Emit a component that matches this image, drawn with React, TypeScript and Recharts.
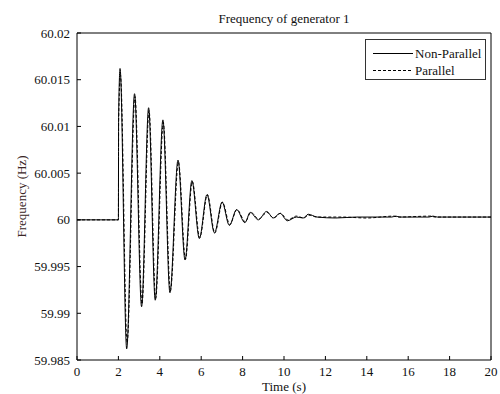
import React from 'react';
import { LineChart, Line, XAxis, YAxis, Legend } from 'recharts';

const FONT = '"Liberation Serif", "Times New Roman", serif';

const timeTicks = [0, 2, 4, 6, 8, 10, 12, 14, 16, 18, 20];
const freqTicks = [59.985, 59.99, 59.995, 60, 60.005, 60.01, 60.015, 60.02];

const nonParallelTime = [
  0, 2.0, 2.01, 2.08, 2.4, 2.78, 3.12, 3.46, 3.78, 4.15, 4.49, 4.88, 5.22, 5.55, 5.91,
  6.28, 6.64, 7.01, 7.36, 7.71, 8.11, 8.37, 8.76, 9.16, 9.48, 9.81, 10.16, 10.6, 10.93,
  11.17, 11.6, 12.5, 13.5, 15.2, 15.4, 15.6, 17.0, 17.2, 17.4, 20
];
const nonParallelFreq = [
  60, 60, 60.011, 60.0162, 59.9862, 60.0135, 59.9907, 60.012, 59.9914, 60.0107, 59.9922,
  60.0064, 59.9957, 60.0042, 59.998, 60.0027, 59.9986, 60.0019, 59.9994, 60.0011, 59.9997,
  60.0008, 60.0, 60.0009, 60.0002, 60.0007, 59.9999, 60.0003, 60.0002, 60.0006, 60.0003,
  60.0002, 60.0003, 60.0003, 60.0004, 60.0003, 60.0003, 60.0004, 60.0003, 60.0003
];

const parallelTime = [
  0, 2.0, 2.01, 2.1, 2.42, 2.8, 3.14, 3.48, 3.8, 4.17, 4.51, 4.9, 5.24, 5.57, 5.93,
  6.3, 6.66, 7.03, 7.38, 7.73, 8.13, 8.4, 8.78, 9.18, 9.5, 9.83, 10.18, 10.6, 10.95,
  11.2, 11.6, 12.8, 14.0, 15.3, 15.5, 17.1, 17.3, 20
];
const parallelFreq = [
  60, 60, 60.0105, 60.0155, 59.9868, 60.0132, 59.991, 60.0117, 59.9916, 60.0104, 59.9924,
  60.0062, 59.9958, 60.0041, 59.9981, 60.0027, 59.9986, 60.0019, 59.9995, 60.0011, 59.9998,
  60.0008, 60.0001, 60.0008, 60.0002, 60.0007, 60.0, 60.0004, 60.0002, 60.0005, 60.0003,
  60.0003, 60.0002, 60.0004, 60.0003, 60.0004, 60.0003, 60.0003
];

const nonParallel = nonParallelTime.map((t, i) => ({ t, f: nonParallelFreq[i] }));
const parallel = parallelTime.map((t, i) => ({ t, f: parallelFreq[i] }));

const TICK_GAP = 6;
const TICK_LEN = 4;

// bottom labels plus an inward tick mark
const BottomTick = ({ x, y, payload }: any) => (
  <g>
    <line x1={x} x2={x} y1={y - TICK_GAP} y2={y - TICK_GAP - TICK_LEN} stroke="#000" />
    <text x={x} y={y + 1} dy="0.71em" textAnchor="middle" fill="#111" fontSize={13} fontFamily={FONT}>
      {payload.value}
    </text>
  </g>
);

const LeftTick = ({ x, y, payload }: any) => (
  <g>
    <line x1={x + TICK_GAP} x2={x + TICK_GAP + TICK_LEN} y1={y} y2={y} stroke="#000" />
    <text x={x - 1} y={y} dy="0.355em" textAnchor="end" fill="#111" fontSize={13} fontFamily={FONT}>
      {String(payload.value)}
    </text>
  </g>
);

const LegendBox = () => (
  <svg width={121} height={41} style={{ display: 'block' }}>
    <rect x={0.5} y={0.5} width={120} height={40} fill="#fff" stroke="#333" />
    <line x1={8} x2={48} y1={14.5} y2={14.5} stroke="#000" />
    <text x={50} y={19} fontSize={13} fontFamily={FONT} fill="#111">Non-Parallel</text>
    <line x1={8} x2={48} y1={31.5} y2={31.5} stroke="#000" strokeDasharray="3 2" />
    <text x={50} y={36} fontSize={13} fontFamily={FONT} fill="#111">Parallel</text>
  </svg>
);

const YLabel = ({ viewBox }: any) => {
  const cx = 21;
  const cy = viewBox.y + viewBox.height / 2;
  return (
    <text
      x={cx}
      y={cy}
      transform={`rotate(-90 ${cx} ${cy})`}
      textAnchor="middle"
      dominantBaseline="central"
      fontSize={13}
      fontFamily={FONT}
      fill="#3a2626"
    >
      Frequency (Hz)
    </text>
  );
};

export default function App() {
  return (
    <div style={{ width: 500, height: 394, background: '#fff' }}>
      <style>{'body{margin:0}'}</style>
      <LineChart width={500} height={394} margin={{ top: 33, right: 9, bottom: 33, left: 76 }}>
        <XAxis
          xAxisId="b"
          type="number"
          dataKey="t"
          domain={[0, 20]}
          ticks={timeTicks}
          interval={0}
          height={1}
          tickSize={0}
          tickMargin={TICK_GAP}
          tickLine={false}
          axisLine={{ stroke: '#000' }}
          tick={<BottomTick />}
          label={{ value: 'Time (s)', position: 'bottom', offset: 21, fontSize: 13, fontFamily: FONT, fill: '#111' }}
        />
        <XAxis
          xAxisId="t"
          orientation="top"
          type="number"
          dataKey="t"
          domain={[0, 20]}
          ticks={timeTicks}
          interval={0}
          height={1}
          mirror
          tickSize={TICK_LEN}
          tickLine={{ stroke: '#000' }}
          tickFormatter={() => ''}
          axisLine={{ stroke: '#000' }}
          label={{ value: 'Frequency of generator 1', position: 'top', offset: 10, fontSize: 13, fontFamily: FONT, fill: '#111' }}
        />
        <YAxis
          yAxisId="l"
          type="number"
          domain={[59.985, 60.02]}
          ticks={freqTicks}
          interval={0}
          width={1}
          tickSize={0}
          tickMargin={TICK_GAP}
          tickLine={false}
          axisLine={{ stroke: '#000' }}
          tick={<LeftTick />}
          label={{ content: <YLabel /> }}
        />
        <YAxis
          yAxisId="r"
          orientation="right"
          type="number"
          domain={[59.985, 60.02]}
          ticks={freqTicks}
          interval={0}
          width={1}
          mirror
          tickSize={TICK_LEN}
          tickLine={{ stroke: '#000' }}
          tickFormatter={() => ''}
          axisLine={{ stroke: '#000' }}
        />
        <Line
          xAxisId="b"
          yAxisId="l"
          data={nonParallel}
          dataKey="f"
          type="monotone"
          stroke="#000"
          strokeWidth={1}
          dot={false}
          isAnimationActive={false}
        />
        <Line
          xAxisId="b"
          yAxisId="l"
          data={parallel}
          dataKey="f"
          type="monotone"
          stroke="#000"
          strokeWidth={1}
          strokeDasharray="3 2"
          dot={false}
          isAnimationActive={false}
        />
        <Legend
          layout="vertical"
          align="center"
          verticalAlign="middle"
          content={<LegendBox />}
          wrapperStyle={{ position: 'absolute', top: 39, left: 365, width: 121, height: 41 }}
        />
      </LineChart>
    </div>
  );
}
